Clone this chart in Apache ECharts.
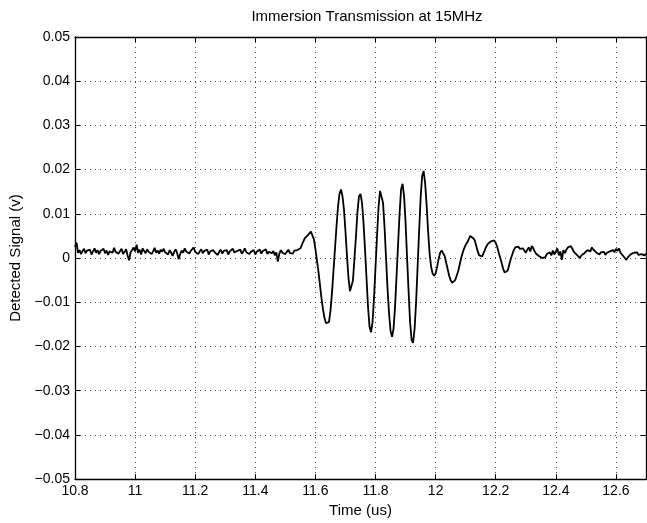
<!DOCTYPE html>
<html>
<head>
<meta charset="utf-8">
<script src="https://cdn.jsdelivr.net/npm/echarts@6/dist/echarts.min.js"></script>
<style>
html,body{margin:0;padding:0;background:#fff;}
#chart{width:647px;height:523px;}
</style>
</head>
<body>
<div id="chart"></div>
<script>
// ---- data ----
const chartTitle = 'Immersion Transmission at 15MHz';
const xAxisTitle = 'Time (us)';
const yAxisTitle = 'Detected Signal (v)';
const timeStart = 10.8;      // us, first sample
const timeStep = 0.005;      // us, sample spacing
const xTicks = [10.8, 11, 11.2, 11.4, 11.6, 11.8, 12, 12.2, 12.4, 12.6];
const yTicks = [-0.05, -0.04, -0.03, -0.02, -0.01, 0, 0.01, 0.02, 0.03, 0.04, 0.05];

// baseline before the burst (10.800 .. 11.550 us)
const signalBefore = [
  0.0025, 0.0035, 0.0012, 0.0018, 0.0009, 0.0016, 0.0021, 0.0011, 0.0017, 0.0013,
  0.0019, 0.0008, 0.0015, 0.0022, 0.0012, 0.0018, 0.0009, 0.0016, 0.0013, 0.0021,
  0.0011, 0.0017, 0.0007, 0.0015, 0.0019, 0.0012, 0.0023, 0.0014, 0.0018, 0.0010,
  0.0016, 0.0021, 0.0009, 0.0014, 0.0020, 0.0006, -0.0005, 0.0013, 0.0018, 0.0024,
  0.0015, 0.0030, 0.0012, 0.0019, 0.0008, 0.0022, 0.0016, 0.0011, 0.0020, 0.0014,
  0.0018, 0.0009, 0.0015, 0.0023, 0.0012, 0.0017, 0.0010, 0.0019, 0.0014, 0.0021,
  0.0013, 0.0016, 0.0008, 0.0018, 0.0012, 0.0005, 0.0014, 0.0020, 0.0011, -0.0003,
  0.0009, 0.0017, 0.0012, 0.0022, 0.0015, 0.0019, 0.0010, 0.0016, 0.0013, 0.0024,
  0.0014, 0.0018, 0.0009, 0.0015, 0.0020, 0.0011, 0.0016, 0.0012, 0.0019, 0.0008,
  0.0015, 0.0011, 0.0018, 0.0013, 0.0017, 0.0007, 0.0014, 0.0019, 0.0010, 0.0016,
  0.0012, 0.0018, 0.0008, 0.0015, 0.0011, 0.0021, 0.0013, 0.0009, 0.0016, 0.0012,
  0.0019, 0.0010, 0.0015, 0.0022, 0.0013, 0.0017, 0.0009, 0.0014, 0.0011, 0.0018,
  0.0008, 0.0015, 0.0012, 0.0019, 0.0010, 0.0016, 0.0013, 0.0020, 0.0009, 0.0014,
  0.0017, 0.0011, 0.0016, 0.0006, 0.0013, -0.0008, 0.0010, 0.0018, 0.0012, 0.0016,
  0.0009, 0.0014, 0.0019, 0.0011, 0.0015, 0.0010, 0.0017, 0.0013, 0.0018, 0.0015,
  0.0022
];

// the tone burst (11.555 .. 11.965 us)
const signalBurst = [
  0.0025, 0.0038, 0.0045, 0.0048, 0.0052, 0.0056, 0.0060, 0.0056, 0.0042, 0.0020,
  -0.0005, -0.0030, -0.0060, -0.0090, -0.0115, -0.0135, -0.0147, -0.0150, -0.0145, -0.0120,
  -0.0080, -0.0030, 0.0020, 0.0070, 0.0115, 0.0145, 0.0155, 0.0140, 0.0110, 0.0060,
  0.0005, -0.0045, -0.0075, -0.0078, -0.0050, 0.0000, 0.0050, 0.0105, 0.0140, 0.0145,
  0.0125, 0.0080, 0.0020, -0.0045, -0.0110, -0.0155, -0.0168, -0.0145, -0.0090, -0.0020,
  0.0050, 0.0115, 0.0152, 0.0155, 0.0125, 0.0070, 0.0000, -0.0070, -0.0125, -0.0165,
  -0.0178, -0.0160, -0.0110, -0.0040, 0.0030, 0.0100, 0.0155, 0.0168, 0.0140, 0.0080,
  0.0000, -0.0075, -0.0145, -0.0185, -0.0192, -0.0160, -0.0100, -0.0020, 0.0060, 0.0135,
  0.0185, 0.0197, 0.0170
];

// ringing and tail after the burst (11.970 .. 12.700 us)
const signalAfter = [
  0.0120, 0.0060, 0.0010, -0.0020, -0.0035, -0.0040, -0.0035, -0.0020, -0.0002, 0.0012,
  0.0017, 0.0015, 0.0005, -0.0010, -0.0025, -0.0040, -0.0050, -0.0056, -0.0055, -0.0050,
  -0.0040, -0.0030, -0.0015, 0.0000, 0.0012, 0.0022, 0.0030, 0.0035, 0.0042, 0.0050,
  0.0052, 0.0045, 0.0040, 0.0028, 0.0015, 0.0006, 0.0002, 0.0004, 0.0012, 0.0020,
  0.0028, 0.0033, 0.0032, 0.0038, 0.0036, 0.0040, 0.0034, 0.0025, 0.0012, 0.0000,
  -0.0012, -0.0025, -0.0033, -0.0035, -0.0028, -0.0015, -0.0002, 0.0008, 0.0018, 0.0024,
  0.0028, 0.0026, 0.0021, 0.0017, 0.0022, 0.0018, 0.0012, 0.0019, 0.0024, 0.0015,
  0.0027, 0.0022, 0.0014, 0.0009, 0.0012, 0.0004, 0.0001, 0.0000, 0.0004, 0.0002,
  0.0009, 0.0005, 0.0013, 0.0006, 0.0017, 0.0008, 0.0012, 0.0022, 0.0006, 0.0015,
  -0.0004, 0.0018, 0.0011, 0.0019, 0.0024, 0.0022, 0.0027, 0.0021, 0.0014, 0.0016,
  0.0007, 0.0003, 0.0000, 0.0006, 0.0002, 0.0011, 0.0007, 0.0018, 0.0022, 0.0015,
  0.0024, 0.0019, 0.0023, 0.0012, 0.0016, 0.0008, 0.0013, 0.0009, 0.0014, 0.0007,
  0.0012, 0.0009, 0.0015, 0.0011, 0.0018, 0.0013, 0.0021, 0.0016, 0.0022, 0.0012,
  0.0015, 0.0004, 0.0001, -0.0004, 0.0002, 0.0003, 0.0009, 0.0006, 0.0012, 0.0008,
  0.0013, 0.0007, 0.0011, 0.0009, 0.0013, 0.0006, 0.0010
];

// ---- build ----
const signal = signalBefore.concat(signalBurst, signalAfter);
const points = signal.map((v, i) => [+(timeStart + i * timeStep).toFixed(3), v]);

const font = 'Liberation Sans, Arial, Helvetica, sans-serif';
const fmtY = v => {
  if (Math.abs(v) < 1e-9) return '0';
  const s = Math.abs(v).toFixed(2);
  return (v < 0 ? '\u2212' : '') + s;
};
const fmtX = v => {
  const r = Math.round(v * 10) / 10;
  return xTicks.some(t => Math.abs(t - r) < 1e-9) ? String(r) : '';
};

const chart = echarts.init(document.getElementById('chart'), null, {renderer: 'canvas'});
const axisCommonX = {
  type: 'value', min: 10.8, max: 12.7, interval: 0.2,
  axisLine: {show: true, onZero: false, lineStyle: {color: '#000', width: 1.3}},
  axisTick: {show: true, inside: true, length: 5, lineStyle: {color: '#000', width: 1}}
};
const axisCommonY = {
  type: 'value', min: -0.05, max: 0.05, interval: 0.01,
  axisLine: {show: true, onZero: false, lineStyle: {color: '#000', width: 1.3}},
  axisTick: {show: true, inside: true, length: 5, lineStyle: {color: '#000', width: 1}}
};

chart.setOption({
  animation: false,
  backgroundColor: '#fff',
  title: {
    text: chartTitle, left: 362, top: 4, textAlign: 'center',
    textStyle: {fontFamily: font, fontSize: 15, fontWeight: 'normal', color: '#000'}
  },
  grid: {left: 75, right: 1, top: 37, bottom: 36, containLabel: false},
  xAxis: [
    Object.assign({}, axisCommonX, {
      position: 'bottom',
      name: xAxisTitle, nameLocation: 'middle', nameGap: 21,
      nameTextStyle: {fontFamily: font, fontSize: 15, color: '#000'},
      axisLabel: {show: true, margin: 5, formatter: fmtX, showMaxLabel: false,
        fontFamily: font, fontSize: 14, color: '#000'},
      splitLine: {show: true, lineStyle: {color: '#444', width: 1, type: [1, 4]}}
    }),
    Object.assign({}, axisCommonX, {
      position: 'top', axisLabel: {show: false}, splitLine: {show: false}
    })
  ],
  yAxis: [
    Object.assign({}, axisCommonY, {
      position: 'left',
      name: yAxisTitle, nameLocation: 'middle', nameGap: 47,
      nameTextStyle: {fontFamily: font, fontSize: 15, color: '#000'},
      axisLabel: {show: true, margin: 5, formatter: fmtY,
        fontFamily: font, fontSize: 14, color: '#000'},
      splitLine: {show: true, lineStyle: {color: '#444', width: 1, type: [1, 4]}}
    }),
    Object.assign({}, axisCommonY, {
      position: 'right', axisLabel: {show: false}, splitLine: {show: false}
    })
  ],
  series: [{
    type: 'line', xAxisIndex: 0, yAxisIndex: 0,
    data: points, showSymbol: false, symbol: 'none',
    lineStyle: {color: '#000', width: 1.8},
    clip: true
  }]
});
</script>
</body>
</html>
